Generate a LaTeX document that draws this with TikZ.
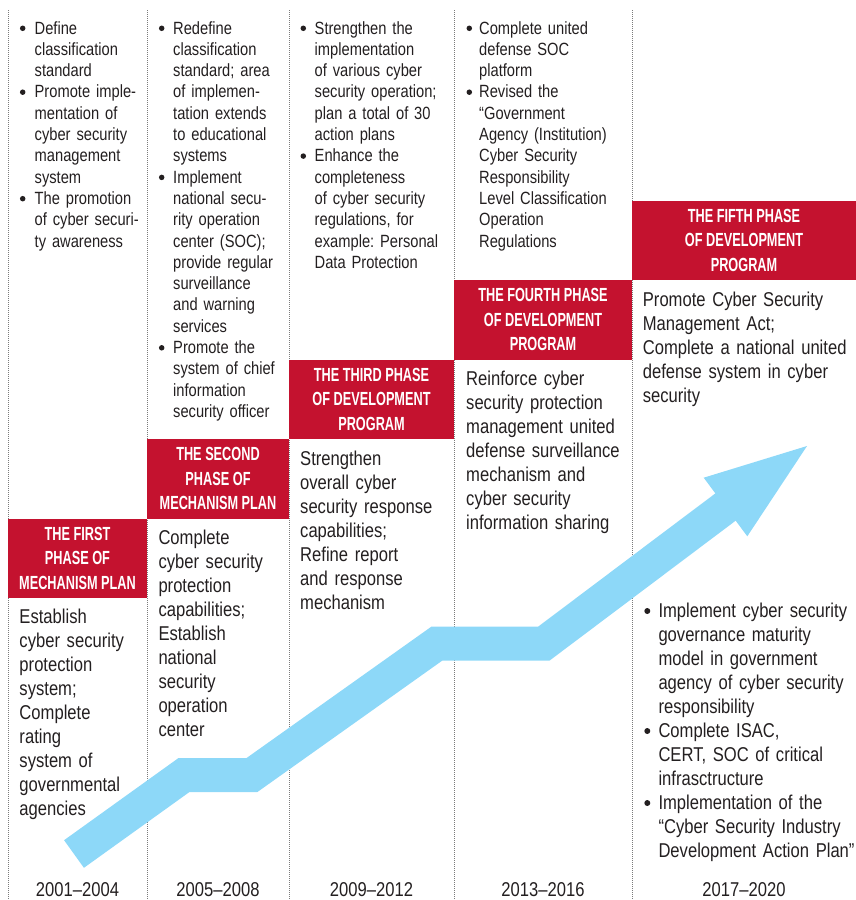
\documentclass[tikz,border=0pt]{standalone}
\usepackage{fontspec}
\setmainfont{Liberation Sans}[FakeStretch=0.83]
\newfontfamily\hdfont{Liberation Sans}[FakeStretch=0.67]
\frenchspacing

\definecolor{phasered}{HTML}{C4122F}
\definecolor{trendblue}{HTML}{8DD8F8}
\definecolor{ink}{HTML}{231F20}
\definecolor{rulegray}{HTML}{7A7A7A}

\tikzset{
  colrule/.style={draw=rulegray, line width=0.8pt, dash pattern=on 0.8pt off 1.2pt},
  phasebox/.style={fill=phasered, text=white, inner sep=0pt, minimum height=79.5pt,
    align=center, font=\hdfont\bfseries\fontsize{19}{24.4}\selectfont},
  smalltext/.style={anchor=base west, inner sep=0pt, text=ink, text width=175pt,
    align=left, font=\fontsize{17.7}{21.3}\selectfont},
  bodytext/.style={anchor=base west, inner sep=0pt, text=ink, text width=230pt,
    align=left, font=\fontsize{20}{24}\selectfont},
  yeartext/.style={anchor=base, inner sep=0pt, text=ink, font=\fontsize{20}{24}\selectfont},
  bulletdot/.style={circle, fill=ink, inner sep=0pt, minimum size=#1},
  bulletdot/.default=5.5pt,
  trendshaft/.style={draw=trendblue, line width=34pt, line join=miter, line cap=butt},
}

\begin{document}
\begin{tikzpicture}[x=1pt, y=-1pt]
\useasboundingbox (0,0) rectangle (856,900);

% column separators
\foreach \cx/\cn in {8/a, 147/b, 289/c, 454/d, 632/e}
  \draw[colrule] (\cx,10) coordinate (top\cn) -- (\cx,900) coordinate (bot\cn);

% phase headers
\node[phasebox, minimum width=139pt] (ph1) at (77.5,558.25)
  {THE FIRST\\PHASE OF\\MECHANISM PLAN};
\node[phasebox, minimum width=142pt] (ph2) at (218,478.75)
  {THE SECOND\\PHASE OF\\MECHANISM PLAN};
\node[phasebox, minimum width=165pt] (ph3) at (371.5,399.25)
  {THE THIRD PHASE\\OF DEVELOPMENT\\PROGRAM};
\node[phasebox, minimum width=178pt] (ph4) at (543,319.75)
  {THE FOURTH PHASE\\OF DEVELOPMENT\\PROGRAM};
\node[phasebox, minimum width=224pt] (ph5) at (744,240.25)
  {THE FIFTH PHASE\\OF DEVELOPMENT\\PROGRAM};

% bulleted measures, top of each column
\node[smalltext] (m1) at (34.5,34)
  {Define\\classification\\standard\\Promote imple-\\mentation of\\cyber security\\management\\system\\The promotion\\of cyber securi-\\ty awareness};
\node[smalltext] (m2) at (173,34)
  {Redefine\\classification\\standard; area\\of implemen-\\tation extends\\to educational\\systems\\Implement\\national secu-\\rity operation\\center (SOC);\\provide regular\\surveillance\\and warning\\services\\Promote the\\system of chief\\information\\security officer};
\node[smalltext] (m3) at (314.5,34)
  {Strengthen the\\implementation\\of various cyber\\security operation;\\plan a total of 30\\action plans\\Enhance the\\completeness\\of cyber security\\regulations, for\\example: Personal\\Data Protection};
\node[smalltext] (m4) at (479,34)
  {Complete united\\defense SOC\\platform\\Revised the\\“Government\\Agency (Institution)\\Cyber Security\\Responsibility\\Level Classification\\Operation\\Regulations};

\foreach \bx/\by/\bn in {22.7/28.3/a1, 22.7/92.2/a2, 22.7/198.7/a3,
                        161.7/28.3/b1, 161.7/177.4/b2, 161.7/347.8/b3,
                        303.3/28.3/c1, 303.3/156.1/c2,
                        469.3/28.3/d1, 469.3/92.2/d2}
  \node[bulletdot] (dot\bn) at (\bx,\by) {};

% phase goals under each header
\node[bodytext] (g1) at (19.3,623.5)
  {Establish\\cyber security\\protection\\system;\\Complete\\rating\\system of\\governmental\\agencies};
\node[bodytext] (g2) at (158.3,544)
  {Complete\\cyber security\\protection\\capabilities;\\Establish\\national\\security\\operation\\center};
\node[bodytext] (g3) at (300,465)
  {Strengthen\\overall cyber\\security response\\capabilities;\\Refine report\\and response\\mechanism};
\node[bodytext] (g4) at (466,385.5)
  {Reinforce cyber\\security protection\\management united\\defense surveillance\\mechanism and\\cyber security\\information sharing};
\node[bodytext] (g5) at (642.7,306.5)
  {Promote Cyber Security\\Management Act;\\Complete a national united\\defense system in cyber\\security};

% further measures of the fifth phase
\node[bodytext] (m5) at (658.3,617.5)
  {Implement cyber security\\governance maturity\\model in government\\agency of cyber security\\responsibility\\Complete ISAC,\\CERT, SOC of critical\\infrasctructure\\Implementation of the\\“Cyber Security Industry\\Development Action Plan”};
\foreach \by/\bn in {611/e1, 731/e2, 803/e3}
  \node[bulletdot=6pt] (dot\bn) at (647.3,\by) {};

% years
\node[yeartext] (y1) at (77.5,896.5) {2001–2004};
\node[yeartext] (y2) at (218,896.5) {2005–2008};
\node[yeartext] (y3) at (371.5,896.5) {2009–2012};
\node[yeartext] (y4) at (543,896.5) {2013–2016};
\node[yeartext] (y5) at (744,896.5) {2017–2020};

% rising trend arrow
\coordinate (t0) at (74,854);
\coordinate (t1) at (184,775);
\coordinate (t2) at (252,775);
\coordinate (t3) at (437,643.5);
\coordinate (t4) at (544,643.5);
\coordinate (t5) at (735.8,499.3);
\coordinate (hl) at (703.7,477.7);
\coordinate (tip) at (807,446);
\coordinate (hr) at (747.3,536.3);
\draw[trendshaft] (t0) -- (t1) -- (t2) -- (t3) -- (t4) -- (t5);
\fill[trendblue] (hl) -- (tip) -- (hr) -- cycle;
\end{tikzpicture}
\end{document}
